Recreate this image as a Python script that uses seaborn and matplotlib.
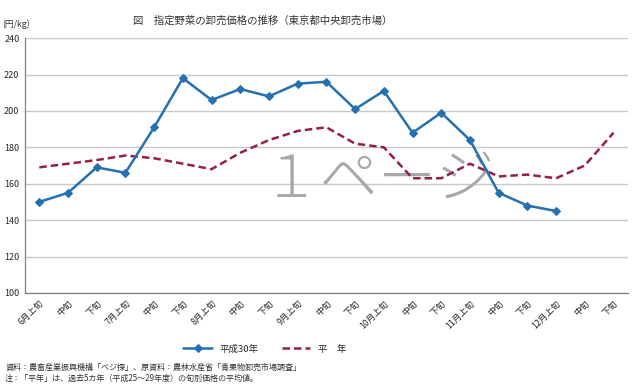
import pandas as pd
import matplotlib.pyplot as plt
import seaborn as sns

# 旬別ラベル
periods = ['6月上旬', '中旬', '下旬', '7月上旬', '中旬', '下旬', '8月上旬', '中旬', '下旬',
           '9月上旬', '中旬', '下旬', '10月上旬', '中旬', '下旬', '11月上旬', '中旬', '下旬',
           '12月上旬', '中旬', '下旬']

h30 = [150, 155, 169, 166, 191, 218, 206, 212, 208, 215, 216, 201, 211, 188, 199, 184,
       155, 148, 145]
heinen = [169, 171, 173, 175.5, 174, 171, 168, 177, 184, 189, 191, 182, 180, 163, 163,
          171, 164, 165, 163, 170, 188]

yticks = [100, 120, 140, 160, 180, 200, 220, 240]

pos = list(range(len(periods)))
df_h30 = pd.DataFrame({'pos': pos[:len(h30)], 'price': h30})
df_hei = pd.DataFrame({'pos': pos, 'price': heinen})

sns.set_style('white')
plt.rcParams['font.family'] = ['Noto Sans CJK JP', 'DejaVu Sans']

fig = plt.figure(figsize=(6.4, 3.89), dpi=100)
ax = fig.add_axes([0.039, 0.247, 0.942, 0.655])

sns.lineplot(data=df_h30, x='pos', y='price', ax=ax, color='#2470b0', linewidth=1.8,
             marker='D', markersize=4.5, markeredgecolor='#2470b0', label='平成30年', zorder=4)
sns.lineplot(data=df_hei, x='pos', y='price', ax=ax, color='#96203f', linewidth=1.8,
             linestyle=(0, (3, 1.6)), label='平　年', zorder=3)

ax.set_xlim(-0.5, len(periods) - 0.5)
ax.set_ylim(100, 240)
ax.set_yticks(yticks)
ax.set_yticklabels([str(v) for v in yticks], fontsize=6.5)
ax.yaxis.grid(True, color='#c8c8c8', linewidth=1)
ax.set_axisbelow(True)

ax.set_xticks(pos)
ax.set_xticklabels(periods, rotation=45, ha='right', rotation_mode='anchor', fontsize=6.3)
ax.set_xticks([p + 0.5 for p in [-1] + pos], minor=True)
ax.tick_params(axis='x', which='major', length=0, pad=4)
ax.tick_params(axis='x', which='minor', length=3, color='#808080', direction='out')
ax.tick_params(axis='y', length=3, color='#808080', direction='out', pad=1)
ax.set_xlabel('')
ax.set_ylabel('')

for s in ['top', 'right']:
    ax.spines[s].set_visible(False)
for s in ['left', 'bottom']:
    ax.spines[s].set_color('#808080')
    ax.spines[s].set_linewidth(0.9)

# 透かし
ax.text(0.587, 0.443, '１ページ', transform=ax.transAxes, fontsize=42, color='#a8a8a8',
        fontweight='light', ha='center', va='center', zorder=2)

fig.text(0.41, 0.948, '図　指定野菜の卸売価格の推移（東京都中央卸売市場）', fontsize=7.5,
         ha='center', va='center', color='#333333')
fig.text(0.003, 0.938, '(円/kg)', fontsize=6.3, ha='left', va='center', color='#333333')

ax.legend(loc='center', bbox_to_anchor=(0.414, 0.103), bbox_transform=fig.transFigure,
          ncol=2, frameon=False, fontsize=6.8, handlelength=3, columnspacing=2.5)

fig.text(0.008, 0.055, '資料：農畜産業振興機構「ベジ探」、原資料：農林水産省「青果物卸売市場調査」',
         fontsize=5.8, ha='left', va='center', color='#333333')
fig.text(0.008, 0.027, '注：「平年」は、過去5カ年（平成25～29年度）の旬別価格の平均値。',
         fontsize=5.8, ha='left', va='center', color='#333333')

fig.savefig('out.png', dpi=100)
